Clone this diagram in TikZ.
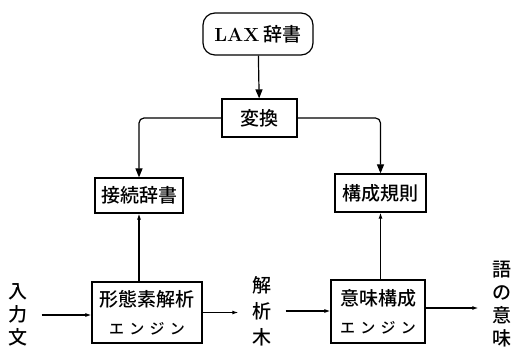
\documentclass[tikz,border=0pt]{standalone}
\usepackage{fontspec}
\newfontfamily\jp{Noto Sans CJK JP Medium}
\newfontfamily\jpsp[LetterSpace=35]{Noto Sans CJK JP Medium}
\usetikzlibrary{arrows.meta,positioning,calc}
\tikzset{
  box/.style={draw,line width=1.2pt,inner sep=0pt,font=\jp\fontsize{19}{21}\selectfont},
  vtext/.style={inner xsep=14pt,inner ysep=0pt,align=center,font=\jp\fontsize{19}{23}\selectfont},
  bigarr/.style={-{Triangle[length=9pt,width=7pt]},line width=1.2pt},
  arr/.style={-{Latex[length=6pt,width=4pt]},line width=1.1pt}
}
\begin{document}
\begin{tikzpicture}[x=1pt,y=-1pt]
\useasboundingbox (0,0) rectangle (518,352);
% boxes
\node[box,rounded corners=12pt,minimum width=110pt,minimum height=42pt] (lax) at (258,34) {{\rmfamily\bfseries LAX} 辞書};
\node[box,minimum width=75pt,minimum height=38pt] (henkan) at (259.5,118) {変換};
\node[box,minimum width=88pt,minimum height=35pt] (setsuzoku) at (139,195.5) {接続辞書};
\node[box,minimum width=91pt,minimum height=38pt] (kousei) at (380.5,193) {構成規則};
\node[box,minimum width=110pt,minimum height=61pt,align=center] (keitaiso) at (147,312.5) {形態素解析\\[7pt]{\jpsp\fontsize{15}{15}\selectfont エンジン}};
\node[box,minimum width=94pt,minimum height=63pt,align=center] (imi) at (378,311.5) {意味構成\\[7pt]{\jpsp\fontsize{15}{15}\selectfont エンジン}};
% vertical texts
\node[vtext] (input) at (18,315) {入\\力\\文};
\node[vtext] (tree) at (262,311) {解\\[3pt]析\\[3pt]木};
\node[vtext] (meaning) at (502,304) {語\\の\\意\\味};
% upper arrows
\draw[bigarr] (lax) -- (henkan);
\draw[bigarr,rounded corners=5pt] (henkan.west) -| (setsuzoku.north);
\draw[bigarr,rounded corners=5pt] (henkan.east) -| (kousei.north);
\draw[arr] (keitaiso.north -| setsuzoku.south) -- (setsuzoku.south);
\draw[arr] (imi.north -| kousei.south) -- (kousei.south);
% lower arrows
\draw[arr] (input.east) -- (input.east -| keitaiso.west);
\draw[arr] (keitaiso.east) -- (keitaiso.east -| tree.west);
\draw[arr] (tree.east) -- (tree.east -| imi.west);
\draw[arr] (imi.east |- 0,308) -- (meaning.west |- 0,308);
\end{tikzpicture}
\end{document}
